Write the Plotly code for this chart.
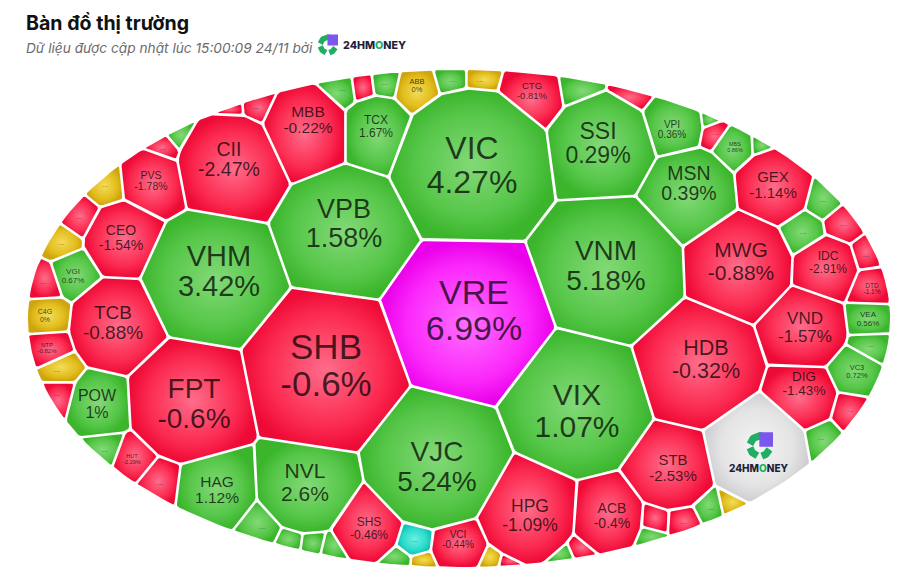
import math
import plotly.graph_objects as go

# Market map cells that show a ticker and its percentage change
tickers = ["VRE", "VIC", "VNM", "VIX", "VJC", "SHB", "VHM", "VPB", "FPT", "HDB", "TCB", "CII",
           "SSI", "MBB", "TCX", "MSN", "VPI", "GEX", "MWG", "IDC", "VND", "DIG", "STB", "ACB",
           "HPG", "NVL", "HAG", "POW", "SHS", "VCI", "CEO", "PVS", "VGI", "C4G", "NTP", "HUT",
           "ABB", "CTG", "MBS", "DTD", "VEA", "VC3"]
changes = [6.99, 4.27, 5.18, 1.07, 5.24, -0.6, 3.42, 1.58, -0.6, -0.32, -0.88, -2.47,
           0.29, -0.22, 1.67, 0.39, 0.36, -1.14, -0.88, -2.91, -1.57, -1.43, -2.53, -0.4,
           -1.09, 2.6, 1.12, 1, -0.46, -0.44, -1.54, -1.78, 0.67, 0, -0.82, -2.29,
           0, -0.81, 0.86, -1.1, 0.56, 0.72]

# Power-diagram sites of the labelled cells
site_x = [470, 472, 610, 578, 435, 325, 210, 345, 190, 697, 118, 230,
          603, 305, 378, 690, 673, 773, 738, 826, 805, 803, 673, 607,
          528, 308, 215, 100, 367, 458, 122, 152, 73, 45, 47, 132,
          417, 530, 735, 871, 870, 856]
site_y = [320, 165, 270, 402, 460, 373, 280, 232, 400, 365, 325, 165,
          147, 130, 130, 195, 125, 187, 265, 268, 328, 397, 468, 518,
          513, 485, 490, 405, 525, 545, 240, 180, 272, 317, 348, 460,
          90, 93, 147, 287, 320, 372]
site_r = [80, 76, 72, 70, 68, 78, 65, 60, 60, 60, 44, 50,
          50, 40, 32, 45, 28, 36, 52, 30, 38, 30, 40, 33,
          47, 47, 35, 27, 32, 24, 34, 27, 17, 15, 14, 13,
          18, 26, 17, 16, 16, 20]

# Text block centres and font sizes
label_x = [474, 472, 606, 577, 437, 326, 219, 344, 194, 706, 113, 229,
           598, 308, 376, 689, 672, 773, 741, 828, 805, 804, 673, 612,
           530, 305, 217, 97, 369, 458, 121, 151, 73, 45, 47, 132,
           417, 532, 735, 872, 868, 857]
label_y = [311, 166, 266, 412, 467, 367, 272, 224, 404, 360, 323, 160,
           144, 120, 127, 184, 130, 185, 262, 263, 328, 384, 468, 516,
           516, 483, 490, 405, 529, 540, 238, 181, 276, 316, 348, 459,
           86, 91, 147, 289, 319, 372]
label_size = [34, 32, 28, 30, 28, 35, 29, 27, 28, 21.5, 19, 19.5,
              23, 15.5, 12, 19.5, 10, 15, 21, 12, 17, 13.5, 15, 14,
              17.5, 21, 15.5, 16, 12, 10, 14, 10.5, 8, 7, 6, 5.5,
              7.5, 9.5, 5.5, 6.5, 8, 7.5]

# Cells too small for a ticker, only their direction is visible
hidden_trend = ["up", "down", "up", "up", "flat", "up", "down", "down", "up", "up",
                "up", "down", "up", "up", "down", "up", "down", "down", "up", "flat",
                "down", "up", "down", "down", "down", "up", "down", "down", "up", "flat",
                "down", "floor", "up", "up", "up", "up", "up", "down", "down", "flat",
                "flat", "down", "flat", "up", "flat"]
hidden_x = [342, 363, 385, 452, 480, 578, 634, 715, 710, 758,
            823, 843, 803, 871, 850, 821, 866, 683, 711, 729,
            656, 652, 57, 160, 232, 105, 256, 163, 178, 61,
            79, 415, 400, 330, 313, 291, 262, 43, 580, 57,
            495, 503, 105, 566, 421]
hidden_y = [89, 86, 83, 80, 80, 85, 94, 133, 120, 146,
            200, 224, 232, 345, 410, 438, 255, 522, 508, 504,
            521, 537, 394, 483, 109, 450, 107, 148, 135, 243,
            217, 540, 561, 548, 544, 541, 527, 282, 551, 370,
            562, 564, 185, 557, 562]
hidden_r = [8, 6, 9, 11, 10, 6, 5, 8, 3, 5,
            14, 14, 17, 13, 11, 10, 10, 10, 9, 6,
            6, 3, 8, 13, 2, 8, 8, 8, 5, 12,
            12, 13, 5, 4, 7, 5, 12, 12, 6, 9,
            3, 1, 11, 2, 4]

# Brand cell
brand_site = (756, 450, 50)

# Bounding ellipse of the map
ELLIPSE = (459, 318.5, 431, 248.5)
GAP = 1.3

PALETTE = {
    "ceil": ("#ff70ff", "#fb28fb", "#ea00ea"),
    "up": ("#83d977", "#55c648", "#3bb52c"),
    "down": ("#ff6d8b", "#fb2a50", "#ee0a36"),
    "flat": ("#f2dc5a", "#e2bd1c", "#cfa50f"),
    "floor": ("#6cf0e2", "#2ddccb", "#10c4b4"),
    "brand": ("#f4f4f4", "#e4e4e5", "#cfcfd2"),
}


def trend_of(change):
    if change >= 6.9:
        return "ceil"
    if change > 0:
        return "up"
    return "down" if change < 0 else "flat"


def clip(poly, nx, ny, c):
    """Keep the part of poly where nx*x + ny*y <= c."""
    out = []
    for k, (x1, y1) in enumerate(poly):
        x2, y2 = poly[(k + 1) % len(poly)]
        d1, d2 = nx * x1 + ny * y1 - c, nx * x2 + ny * y2 - c
        if d1 <= 0:
            out.append((x1, y1))
        if d1 * d2 < 0:
            t = d1 / (d1 - d2)
            out.append((x1 + t * (x2 - x1), y1 + t * (y2 - y1)))
    return out


def power_cell(i, sites):
    cx, cy, rx, ry = ELLIPSE
    poly = [(cx + rx * math.cos(a * math.pi / 120), cy + ry * math.sin(a * math.pi / 120))
            for a in range(240)]
    xi, yi, ri = sites[i]
    for j, (xj, yj, rj) in enumerate(sites):
        if j == i:
            continue
        dx, dy = xj - xi, yj - yi
        d = math.hypot(dx, dy)
        c = (xj**2 + yj**2 - rj**2 - xi**2 - yi**2 + ri**2) / 2
        poly = clip(poly, dx / d, dy / d, c / d - GAP)
        if len(poly) < 3:
            return []
    return poly


def round_corners(poly, radius=2.2):
    pts = []
    for x, y in poly:
        if pts and math.hypot(x - pts[-1][0], y - pts[-1][1]) < 0.3:
            continue
        pts.append((x, y))
    out = []
    n = len(pts)
    for k in range(n):
        px, py = pts[k - 1]
        x, y = pts[k]
        qx, qy = pts[(k + 1) % n]
        a, b = math.hypot(px - x, py - y), math.hypot(qx - x, qy - y)
        if a == 0 or b == 0:
            continue
        cosang = ((px - x) * (qx - x) + (py - y) * (qy - y)) / (a * b)
        if cosang < -0.985:
            out.append((x, y))
            continue
        ra, rb = min(radius, a * 0.45), min(radius, b * 0.45)
        sx, sy = x + (px - x) * ra / a, y + (py - y) * ra / a
        ex, ey = x + (qx - x) * rb / b, y + (qy - y) * rb / b
        for t in (0, 0.25, 0.5, 0.75, 1):
            out.append(((1 - t) ** 2 * sx + 2 * t * (1 - t) * x + t * t * ex,
                        (1 - t) ** 2 * sy + 2 * t * (1 - t) * y + t * t * ey))
    return out


hidden_sites = list(zip(hidden_x, hidden_y, hidden_r))
sites = list(zip(site_x, site_y, site_r)) + hidden_sites + [brand_site]
trends = [trend_of(c) for c in changes] + hidden_trend + ["brand"]

fig = go.Figure()

for i, trend in enumerate(trends):
    poly = power_cell(i, sites)
    if not poly:
        continue
    poly = round_corners(poly)
    xs = [p[0] for p in poly] + [poly[0][0]]
    ys = [p[1] for p in poly] + [poly[0][1]]
    c0, c1, c2 = PALETTE[trend]
    fig.add_trace(go.Scatter(
        x=xs, y=ys, mode="lines", fill="toself", line=dict(width=0, color=c2),
        fillgradient=dict(type="radial", colorscale=[[0, c0], [0.7, c1], [1, c2]]),
        hoverinfo="skip", showlegend=False))


def pct_text(v):
    return f"{v:g}%"


# Ticker and change lines sit closer than a regular line break
label_font = dict(family="Liberation Sans", size=label_size, color="rgba(0,0,0,0.72)")
fig.add_trace(go.Scatter(
    x=label_x, y=[y - 0.47 * s for y, s in zip(label_y, label_size)], mode="text",
    text=tickers, textposition="middle center", hoverinfo="skip", showlegend=False,
    textfont=label_font))
fig.add_trace(go.Scatter(
    x=label_x, y=[y + 0.59 * s for y, s in zip(label_y, label_size)], mode="text",
    text=[pct_text(c) for c in changes], textposition="middle center",
    hoverinfo="skip", showlegend=False, textfont=label_font))
dotted = [s for s in hidden_sites if s[2] >= 8]
fig.add_trace(go.Scatter(
    x=[s[0] for s in dotted], y=[s[1] for s in dotted],
    mode="text", text=["..."] * len(dotted), textposition="middle center",
    hoverinfo="skip", showlegend=False,
    textfont=dict(family="Liberation Sans", size=8, color="rgba(0,0,0,0.55)")))


def arc(cx, cy, r, a0, a1, color, width):
    steps = 16
    xs = [cx + r * math.cos(math.radians(a0 + (a1 - a0) * t / steps)) for t in range(steps + 1)]
    ys = [cy + r * math.sin(math.radians(a0 + (a1 - a0) * t / steps)) for t in range(steps + 1)]
    fig.add_trace(go.Scatter(x=xs, y=ys, mode="lines", line=dict(color=color, width=width),
                             hoverinfo="skip", showlegend=False))


def brand_mark(cx, cy, r, text_x, text_y, text_size, anchor):
    green, purple = "#1fae62", "#7b57ee"
    w = r * 0.55
    arc(cx, cy, r * 0.78, 105, 170, green, w)
    arc(cx, cy, r * 0.78, 190, 285, green, w)
    arc(cx, cy, r * 0.78, 20, 80, green, w)
    s = r * 1.0
    fig.add_trace(go.Scatter(
        x=[cx, cx + s, cx + s, cx - 0.05 * s, cx - 0.05 * s, cx],
        y=[cy - 1.05 * r, cy - 1.05 * r, cy + 0.05 * r, cy + 0.05 * r, cy - 1.05 * r, cy - 1.05 * r],
        mode="lines", fill="toself", fillcolor=purple, line=dict(width=0, color=purple),
        hoverinfo="skip", showlegend=False))
    fig.add_annotation(
        x=text_x, y=text_y, xanchor=anchor, yanchor="middle", showarrow=False,
        text='24HM<span style="color:#1fae62">O</span>NEY',
        font=dict(family="Inter", size=text_size, color="#1f1f3a", weight=800))


brand_mark(328, 45, 10, 341, 45, 10.7, "left")
brand_mark(760, 446, 13, 759, 468, 10, "center")

fig.add_annotation(x=24, y=23, xanchor="left", yanchor="middle", showarrow=False,
                   text="<b>Bàn đồ thị trường</b>",
                   font=dict(family="Inter", size=19.6, color="#111111"))
fig.add_annotation(x=24, y=48, xanchor="left", yanchor="middle", showarrow=False,
                   text="<i>Dữ liệu được cập nhật lúc 15:00:09 24/11 bởi</i>",
                   font=dict(family="Inter", size=13.7, color="#6b6b6b"))

fig.update_layout(
    width=903, height=584, margin=dict(l=0, r=0, t=0, b=0),
    paper_bgcolor="white", plot_bgcolor="white", showlegend=False,
    xaxis=dict(range=[0, 903], visible=False, fixedrange=True),
    yaxis=dict(range=[584, 0], visible=False, fixedrange=True),
)

fig.write_html("out.html")
